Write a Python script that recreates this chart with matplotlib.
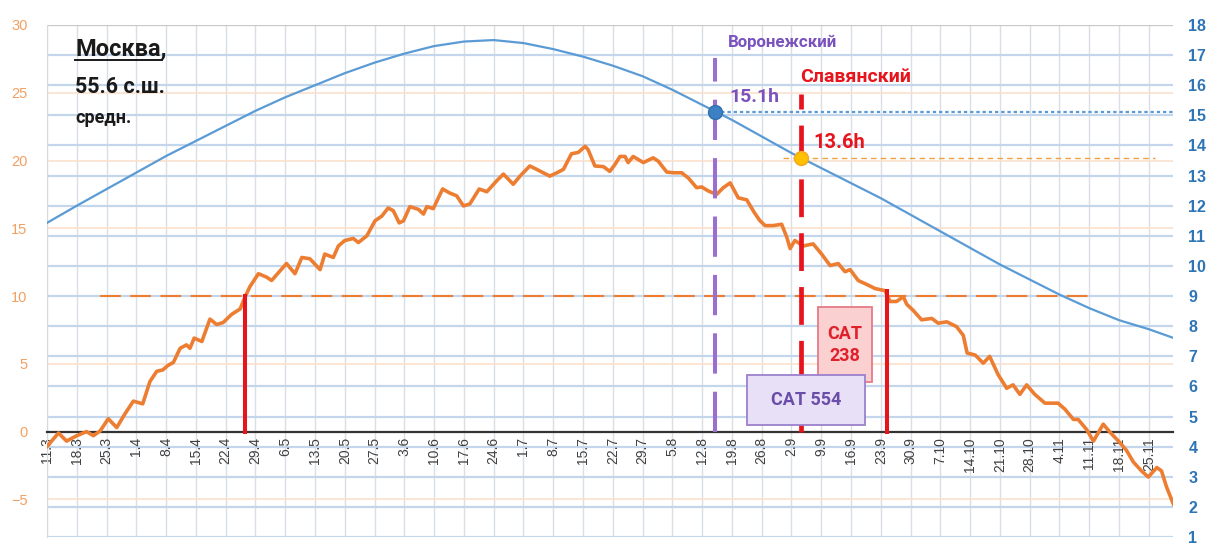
import matplotlib
matplotlib.use('Agg')
import matplotlib.pyplot as plt
from matplotlib.patches import Rectangle
from matplotlib.lines import Line2D

plt.rcParams['font.family'] = ['Liberation Sans', 'DejaVu Sans']

# ---------------- data ----------------
week_labels = ['11.3', '18.3', '25.3', '1.4', '8.4', '15.4', '22.4', '29.4', '6.5', '13.5',
               '20.5', '27.5', '3.6', '10.6', '17.6', '24.6', '1.7', '8.7', '15.7', '22.7',
               '29.7', '5.8', '12.8', '19.8', '26.8', '2.9', '9.9', '16.9', '23.9', '30.9',
               '7.10', '14.10', '21.10', '28.10', '4.11', '11.11', '18.11', '25.11']
week_days = [7 * i for i in range(len(week_labels))]   # days since 11 March
last_day = 264.7

# day length (hours), right axis
daylen_days = week_days + [265]
daylen_hours = [11.43, 12.0, 12.55, 13.1, 13.65, 14.15, 14.65, 15.15, 15.6, 16.0,
                16.4, 16.75, 17.05, 17.3, 17.45, 17.5, 17.4, 17.2, 16.95, 16.65,
                16.3, 15.85, 15.35, 14.85, 14.3, 13.75, 13.25, 12.75, 12.25, 11.7,
                11.15, 10.6, 10.05, 9.55, 9.05, 8.6, 8.2, 7.9, 7.6]

# mean daily temperature (°C), left axis
temp_days = [0, 2.7, 4.6, 7, 9.3, 10.9, 12.5, 14.4, 16.4, 18.3, 20.3, 22.5, 24.2, 25.8, 27.2,
             28.5, 29.7, 31.3, 32.8, 33.6, 34.6, 36.4, 38.3, 39.9, 41.4, 43.4, 45.4, 46.5,
             47.7, 49.7, 51.6, 52.8, 56.3, 58.3, 59.9, 61.8, 64.2, 65.3, 67.3, 68.5, 70,
             72, 73.2, 75.2, 77.1, 78.7, 80.2, 81.4, 82.8, 83.8, 85.3, 87.3, 88.5, 89.3,
             90.8, 93, 94.7, 96.3, 97.9, 99.4, 101.6, 103.4, 105.7, 107.3, 109.6, 111.2,
             113.5, 115.1, 118.2, 120.2, 121.4, 123.3, 124.9, 126.5, 127.2, 128.8, 130.8,
             132.3, 133.5, 134.7, 135.9, 136.6, 137.8, 140.2, 142.5, 143.7, 145.7, 147.2,
             149.2, 150.8, 152.7, 153.9, 155.5, 157.4, 159, 160.6, 162.5, 164.5, 166.2,
             167.5, 168.8, 170.7, 172.7, 173.9, 174.7, 175.8, 177.8, 180.1, 182.1, 184.1,
             186, 187.6, 188.8, 190.7, 193.1, 194.7, 197, 198.2, 199.7, 201.3, 202.1,
             203.6, 205.6, 208, 209.5, 211.5, 213.8, 215.4, 216.3, 218.2, 220.1, 221.6,
             223.6, 225.6, 227.1, 228.7, 230.3, 232.2, 234.6, 237.7, 239.3, 241.3, 242.4,
             244.4, 246, 248.3, 249.9, 252.2, 253.8, 255.4, 257.3, 258.9, 260.9, 262,
             263.2, 264.8]
temp_values = [-1.1, -0.1, -0.7, -0.3, 0.0, -0.3, 0.05, 0.95, 0.3, 1.3, 2.25, 2.05, 3.7, 4.45,
               4.55, 4.9, 5.1, 6.15, 6.4, 6.15, 6.9, 6.65, 8.3, 7.9, 8.05, 8.65, 9.05, 9.9,
               10.7, 11.65, 11.4, 11.15, 12.4, 11.65, 12.85, 12.75, 11.95, 13.1, 12.85,
               13.7, 14.1, 14.25, 13.95, 14.45, 15.55, 15.9, 16.5, 16.3, 15.4, 15.55, 16.6,
               16.4, 16.05, 16.6, 16.45, 17.9, 17.6, 17.4, 16.65, 16.8, 17.9, 17.7, 18.5,
               19.0, 18.25, 18.85, 19.6, 19.35, 18.85, 19.15, 19.35, 20.5, 20.6, 21.05,
               20.8, 19.6, 19.55, 19.2, 19.7, 20.3, 20.3, 19.85, 20.3, 19.85, 20.2, 19.95,
               19.15, 19.1, 19.1, 18.7, 18.0, 18.05, 17.75, 17.5, 18.0, 18.35, 17.25, 17.1,
               16.2, 15.6, 15.2, 15.2, 15.3, 14.35, 13.5, 14.1, 13.7, 13.85, 13.1, 12.25,
               12.4, 11.8, 11.95, 11.15, 10.8, 10.55, 10.4, 9.6, 9.6, 9.95, 9.4, 8.95, 8.25,
               8.35, 8.0, 8.1, 7.75, 7.1, 5.8, 5.65, 5.05, 5.55, 4.2, 3.2, 3.45, 2.75, 3.45,
               2.75, 2.1, 2.1, 1.65, 0.9, 0.9, 0.15, -0.7, 0.55, -0.05, -0.8, -1.4, -2.25,
               -2.9, -3.35, -2.65, -2.9, -4.1, -5.35]

temp_ticks = [-5, 0, 5, 10, 15, 20, 25, 30]
hour_ticks = list(range(1, 19))

threshold_temp = 10
cross_days = [46.5, 197.5]          # days when mean temperature crosses 10 °C
cross_tops = [10.0, 10.4]

voronezh_day, voronezh_hours, voronezh_top = 157.0, 15.1, 27.6
slav_day, slav_hours, slav_top = 177.2, 13.6, 24.9

# ---------------- colours ----------------
ORANGE = '#ed7d31'
BLUE = '#5b9bd5'
RED = '#e8141c'
PURPLE = '#9b6fd0'
PURPLE_TXT = '#7a52bd'
BOLD_FONT = ['Roboto', 'DejaVu Sans']

fig = plt.figure(figsize=(12.08, 5.45), dpi=100)
ax = fig.add_axes([47 / 1208, 8 / 545, 1126 / 1208, 512 / 545])
ax2 = ax.twinx()
ax.set_xlim(0, last_day)
ax.set_ylim(-7.775, 30)
ax2.set_ylim(1, 18)

# grid
for d in week_days:
    ax.axvline(d, color='#dadfe6', lw=1.0, zorder=0)
for t in temp_ticks:
    ax.axhline(t, color='#fbe0cc', lw=1.2, zorder=0)
ax.hlines(hour_ticks[:-1], 0, last_day, transform=ax2.transData,
          colors='#c3d6ec', lw=1.6, zorder=0.1)
ax.hlines([18], 0, last_day, transform=ax2.transData, colors='#c8c8c8', lw=1.6, zorder=0.1)

# spines / ticks
for s in ['top', 'right']:
    ax.spines[s].set_visible(False)
ax.spines['left'].set_color('#d9d9d9')
ax.spines['bottom'].set_position(('data', 0))
ax.spines['bottom'].set_color('#333333')
ax.spines['bottom'].set_linewidth(1.6)
for s in ax2.spines.values():
    s.set_visible(False)

ax.set_xticks(week_days)
ax.set_xticklabels(week_labels, rotation=90)
ax.tick_params(axis='x', length=0, pad=4, labelsize=10, labelcolor='#404040')
ax.set_yticks(temp_ticks)
ax.tick_params(axis='y', length=0, pad=14, labelsize=10.5, labelcolor='#f2a062')
ax2.set_yticks(hour_ticks)
ax2.tick_params(axis='y', length=0, pad=11, labelsize=11.5, labelcolor='#2e75b6')
for lb in ax2.get_yticklabels():
    lb.set_fontweight('bold')

# threshold dashed line at 10 °C
ax.plot([12.5, 245], [threshold_temp, threshold_temp], color=ORANGE, lw=1.5,
        dashes=(10, 4.5), zorder=1)

# temperature curve
ax.plot(temp_days, temp_values, color=ORANGE, lw=2.6, zorder=3, solid_joinstyle='round')

# red verticals at 10 °C crossings
for d, top in zip(cross_days, cross_tops):
    ax.plot([d, d], [0, top], color=RED, lw=2.9, zorder=4)

# Voronezh (purple dashed)
ax.plot([voronezh_day, voronezh_day], [0, voronezh_top], color=PURPLE, lw=2.9,
        dashes=(10, 4.5), zorder=4)
# Slavyansky (red dashed)
ax.plot([slav_day, slav_day], [0, slav_top], color=RED, lw=3.4, dashes=(8, 3.4), zorder=4)

# day-length curve
ax2.plot(daylen_days, daylen_hours, color=BLUE, lw=1.6, zorder=3)
ax2.plot([voronezh_day, last_day], [voronezh_hours, voronezh_hours], color=BLUE, lw=1.6,
         dashes=(1.5, 1.3), zorder=2)
ax2.plot([173, 260.5], [slav_hours, slav_hours], color='#f0a040', lw=1.0,
         dashes=(4, 3), zorder=2)
ax2.plot([voronezh_day], [voronezh_hours], 'o', ms=10, color='#3d80c4',
         mec='#2e6fb0', zorder=6)
ax2.plot([slav_day], [slav_hours], 'o', ms=10, color='#ffc000', mec='#f5a623', zorder=6)

# labels
ax2.text(160.0, 28.75, 'Воронежский', transform=ax.transData, color=PURPLE_TXT,
         fontsize=12.2, fontweight='bold', family=BOLD_FONT, va='center', ha='left')
ax2.text(177.0, 26.15, 'Славянский', transform=ax.transData, color=RED,
         fontsize=14, fontweight='bold', family=BOLD_FONT, va='center', ha='left')
ax2.text(160.3, 24.7, '15.1h', transform=ax.transData, color=PURPLE_TXT,
         fontsize=14, fontweight='bold', family=BOLD_FONT, va='center', ha='left')
ax2.text(180.2, 21.3, '13.6h', transform=ax.transData, color=RED,
         fontsize=14.5, fontweight='bold', family=BOLD_FONT, va='center', ha='left')

t1 = ax2.text(6.6, 28.2, 'Москва,', transform=ax.transData, color='#1a1a1a',
              fontsize=17, fontweight='bold', family=BOLD_FONT, va='center', ha='left')
ax2.text(6.6, 25.4, '55.6 с.ш.', transform=ax.transData, color='#1a1a1a',
         fontsize=15.5, fontweight='bold', family=BOLD_FONT, va='center', ha='left')
ax2.text(6.6, 23.15, 'средн.', transform=ax.transData, color='#1a1a1a',
         fontsize=13, fontweight='bold', family=BOLD_FONT, va='center', ha='left')

# boxes
ax2.add_patch(Rectangle((181.2, 3.67), 12.7, 5.5, transform=ax.transData,
                        facecolor='#fbd0d0', edgecolor='#e57b85', lw=1.3, zorder=7))
ax2.text(187.55, 6.42, 'CAT\n238', transform=ax.transData, color='#e0202a', fontsize=13,
         fontweight='bold', family=BOLD_FONT, ha='center', va='center', linespacing=1.3,
         zorder=8)
ax2.add_patch(Rectangle((164.5, 0.51), 27.8, 3.67, transform=ax.transData,
                        facecolor='#e8e0f6', edgecolor='#9b80cc', lw=1.3, zorder=7))
ax2.text(178.4, 2.35, 'CAT 554', transform=ax.transData, color='#6a4da8', fontsize=13,
         fontweight='bold', family=BOLD_FONT, ha='center', va='center', zorder=8)

# underline for "Москва,"
fig.canvas.draw()
bb = t1.get_window_extent()
inv = fig.transFigure.inverted()
(x0, y0), (x1, _) = inv.transform([(bb.x0, bb.y0 + 1), (bb.x1, bb.y0)])
fig.add_artist(Line2D([x0, x1 - 0.004], [y0, y0], color='#1a1a1a', lw=1.4))

fig.savefig('out.png', dpi=100)
